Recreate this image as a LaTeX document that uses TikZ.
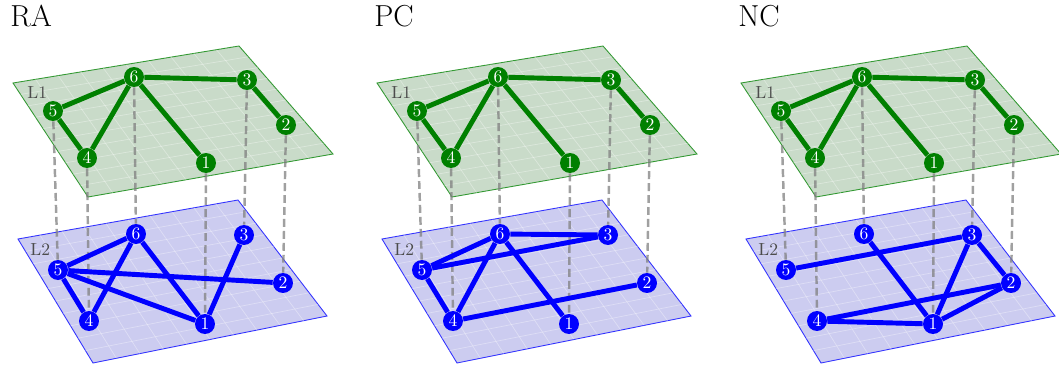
\documentclass[tikz,border=0pt]{standalone}
\usetikzlibrary{calc}

\pgfdeclarelayer{planes}
\pgfdeclarelayer{links}
\pgfsetlayers{planes,links,main}

\definecolor{lgreen}{RGB}{0,128,0}
\definecolor{lblue}{RGB}{0,0,255}
\definecolor{gfill}{RGB}{201,219,201}
\definecolor{bfill}{RGB}{204,204,240}

\begin{document}
\begin{tikzpicture}[x=0.02cm, y=-0.02cm,
  gnode/.style={circle, fill=lgreen, text=white, minimum size=0.4cm, inner sep=0pt},
  bnode/.style={circle, fill=lblue, text=white, minimum size=0.4cm, inner sep=0pt},
  gedge/.style={lgreen, line width=2.8pt},
  bedge/.style={lblue, line width=2.8pt},
  interlayer/.style={gray, draw opacity=0.75, line width=1.4pt, dash pattern=on 4.5pt off 2.3pt},
  gplane/.style={draw=lgreen!80!white, fill=gfill, line width=0.5pt},
  bplane/.style={draw=lblue!80!white, fill=bfill, line width=0.5pt},
  gridline/.style={draw=white, draw opacity=0.35, line width=0.4pt},
  layername/.style={anchor=base west, inner sep=0pt, text=black!70},
  title/.style={anchor=base west, inner sep=0pt, font=\LARGE}]

\useasboundingbox (0,0) rectangle (1059,372);

\foreach \p/\s/\t in {ra/0/RA, pc/364/PC, nc/728/NC} {
\begin{scope}[shift={(\s,0)}]
  \node[title] (\p-title) at (10,27) {\t};

  % plane corners
  \coordinate (\p-gA) at (13,83);
  \coordinate (\p-gB) at (239,46);
  \coordinate (\p-gC) at (333,154);
  \coordinate (\p-gD) at (88,197);
  \coordinate (\p-bA) at (18,239);
  \coordinate (\p-bB) at (238,200);
  \coordinate (\p-bC) at (327,316);
  \coordinate (\p-bD) at (93,363);

  \begin{pgfonlayer}{planes}
    \draw[gplane] (\p-gA) -- (\p-gB) -- (\p-gC) -- (\p-gD) -- cycle;
    \draw[bplane] (\p-bA) -- (\p-bB) -- (\p-bC) -- (\p-bD) -- cycle;
    \foreach \u in {0.1,0.2,...,0.95} {
      \draw[gridline] ($(\p-gA)!\u!(\p-gD)$) -- ($(\p-gB)!\u!(\p-gC)$);
      \draw[gridline] ($(\p-gA)!\u!(\p-gB)$) -- ($(\p-gD)!\u!(\p-gC)$);
      \draw[gridline] ($(\p-bA)!\u!(\p-bD)$) -- ($(\p-bB)!\u!(\p-bC)$);
      \draw[gridline] ($(\p-bA)!\u!(\p-bB)$) -- ($(\p-bD)!\u!(\p-bC)$);
    }
  \end{pgfonlayer}

  \node[layername] (\p-L1) at (27,98) {L1};
  \node[layername] (\p-L2) at (30,255) {L2};

  % layer 1
  \node[gnode] (\p-g1) at (206,163) {1};
  \node[gnode] (\p-g2) at (286,125) {2};
  \node[gnode] (\p-g3) at (247,80) {3};
  \node[gnode] (\p-g4) at (87,158) {4};
  \node[gnode] (\p-g5) at (53,111) {5};
  \node[gnode] (\p-g6) at (134,77) {6};

  % layer 2
  \node[bnode] (\p-b1) at (205,324) {1};
  \node[bnode] (\p-b2) at (283,283) {2};
  \node[bnode] (\p-b3) at (244,235) {3};
  \node[bnode] (\p-b4) at (89,321) {4};
  \node[bnode] (\p-b5) at (58,270) {5};
  \node[bnode] (\p-b6) at (136,234) {6};

  \begin{pgfonlayer}{links}
    \foreach \n in {1,...,6}
      \draw[interlayer] (\p-g\n) -- (\p-b\n);
    \foreach \a/\b in {5/6,5/4,4/6,6/1,6/3,3/2}
      \draw[gedge] (\p-g\a) -- (\p-g\b);
  \end{pgfonlayer}
\end{scope}
}

\begin{pgfonlayer}{links}
\foreach \a/\b in {5/6,5/4,6/4,6/1,5/2,5/1,3/1}
  \draw[bedge] (ra-b\a) -- (ra-b\b);
\foreach \a/\b in {6/3,5/6,5/3,5/4,4/6,6/1,4/2}
  \draw[bedge] (pc-b\a) -- (pc-b\b);
\foreach \a/\b in {5/3,6/1,3/1,3/2,4/2,4/1,2/1}
  \draw[bedge] (nc-b\a) -- (nc-b\b);
\end{pgfonlayer}
\end{tikzpicture}
\end{document}
